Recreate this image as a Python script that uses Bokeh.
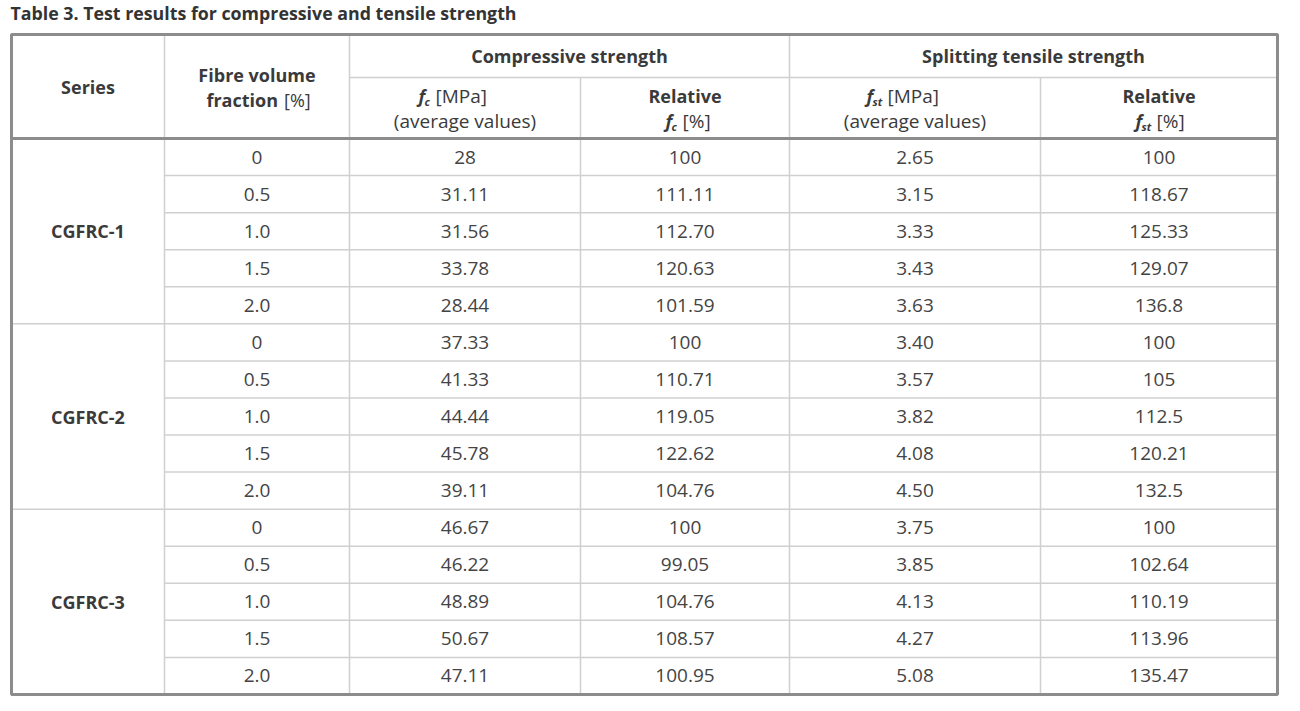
from bokeh.plotting import figure
from bokeh.models import Range1d, ColumnDataSource
from bokeh.core.properties import value
from bokeh.embed import file_html
from bokeh.resources import INLINE

# ---- data ----
series = ["CGFRC-1", "CGFRC-2", "CGFRC-3"]
fractions = ["0", "0.5", "1.0", "1.5", "2.0"]
fc = ["28", "31.11", "31.56", "33.78", "28.44",
      "37.33", "41.33", "44.44", "45.78", "39.11",
      "46.67", "46.22", "48.89", "50.67", "47.11"]
rel_fc = ["100", "111.11", "112.70", "120.63", "101.59",
          "100", "110.71", "119.05", "122.62", "104.76",
          "100", "99.05", "104.76", "108.57", "100.95"]
fst = ["2.65", "3.15", "3.33", "3.43", "3.63",
       "3.40", "3.57", "3.82", "4.08", "4.50",
       "3.75", "3.85", "4.13", "4.27", "5.08"]
rel_fst = ["100", "118.67", "125.33", "129.07", "136.8",
           "100", "105", "112.5", "120.21", "132.5",
           "100", "102.64", "110.19", "113.96", "135.47"]
title = "Table 3. Test results for compressive and tensile strength"

# ---- layout ----
W, H = 1296, 705
FONT = "Open Sans"
TXT = "#3a3a3a"
p = figure(width=W, height=H, x_range=Range1d(0, W), y_range=Range1d(H, 0),
           output_backend="svg", toolbar_location=None, min_border=0)
p.axis.visible = False
p.grid.visible = False
p.outline_line_color = None
p.background_fill_color = "white"

L, R, T, B = 11, 1277, 34, 694
HB = 138
MID = 77
colx = [L, 164, 349, 580, 789, 1040, R]
centers = [(colx[i] + colx[i + 1]) / 2 for i in range(6)]
nrows = len(fc)
rh = (B - HB) / nrows

# inner lines
x0s, y0s, x1s, y1s = [], [], [], []
for i in range(1, nrows):
    y = HB + i * rh
    xs = L if i % len(fractions) == 0 else colx[1]
    x0s.append(xs); x1s.append(R); y0s.append(y); y1s.append(y)
for xv, ys in [(colx[1], T), (colx[2], T), (colx[3], MID), (colx[4], T), (colx[5], MID)]:
    x0s.append(xv); x1s.append(xv); y0s.append(ys); y1s.append(B)
x0s.append(colx[2]); x1s.append(R); y0s.append(MID); y1s.append(MID)
p.segment(x0s, y0s, x1s, y1s, line_color="#d0d0d0", line_width=1.5)

# header bottom + outer border
p.segment([L], [HB], [R], [HB], line_color="#8c8c8c", line_width=3)
p.quad(left=[L], right=[R], top=[T], bottom=[B], fill_color=None,
       line_color="#8c8c8c", line_width=3)

def txt(x, y, s, bold=False, italic=False, size=19, align="center", color=TXT):
    if bold and italic:
        style = "bold italic"
    elif bold:
        style = "bold"
    elif italic:
        style = "italic"
    else:
        style = "normal"
    p.text(x=[x], y=[y], text=[s], text_font=value(FONT), text_font_style=style,
           text_font_size=f"{size}px", text_align=align, text_baseline="middle",
           text_color=color)

BS = 18  # bold header size

# title
txt(10, 12, title, bold=True, size=17.8, align="left", color="#333333")

# header
txt(centers[0], 86, "Series", bold=True, size=BS)
txt(centers[1], 74, "Fibre volume", bold=True, size=BS)
txt(centers[1] + 21, 99, "fraction", bold=True, size=BS, align="right")
txt(centers[1] + 27, 99, "[%]", align="left", size=18)
txt((colx[2] + colx[4]) / 2, 55, "Compressive strength", bold=True, size=BS)
txt((colx[4] + R) / 2, 55, "Splitting tensile strength", bold=True, size=BS)

def fsym(xf, y, sub, unit, wsub):
    # f (bold italic) + subscript + unit
    txt(xf, y, "f", bold=True, italic=True, size=BS, align="left")
    txt(xf + 6, y + 6, sub, bold=True, italic=True, size=11, align="left")
    txt(xf + 7 + wsub + 5, y, unit, align="left")

fsym(418, 95, "c", "[MPa]", 5)
txt(centers[2], 120, "(average values)")
txt(centers[3], 95, "Relative", bold=True, size=BS)
fsym(665, 120, "c", "[%]", 5)
fsym(866, 95, "st", "[MPa]", 9)
txt(centers[4], 120, "(average values)")
txt(centers[5], 95, "Relative", bold=True, size=BS)
fsym(1135, 120, "st", "[%]", 9)

# body
ys = [HB + (i + 0.5) * rh for i in range(nrows)]
frac_col = [fractions[i % len(fractions)] for i in range(nrows)]
src = ColumnDataSource(dict(y=ys, frac=frac_col, fc=fc, rfc=rel_fc, fst=fst, rfst=rel_fst))
for ci, col in zip(range(1, 6), ["frac", "fc", "rfc", "fst", "rfst"]):
    p.text(x=centers[ci], y="y", text=col, source=src, text_font=value(FONT),
           text_font_size="19px", text_align="center", text_baseline="middle",
           text_color="#444444")
gys = [HB + (g * len(fractions) + len(fractions) / 2) * rh for g in range(len(series))]
p.text(x=[centers[0]] * len(series), y=gys, text=series, text_font=value(FONT),
       text_font_style="bold", text_font_size=f"{BS}px", text_align="center",
       text_baseline="middle", text_color=TXT)

open("out.html", "w").write(file_html(p, INLINE))
